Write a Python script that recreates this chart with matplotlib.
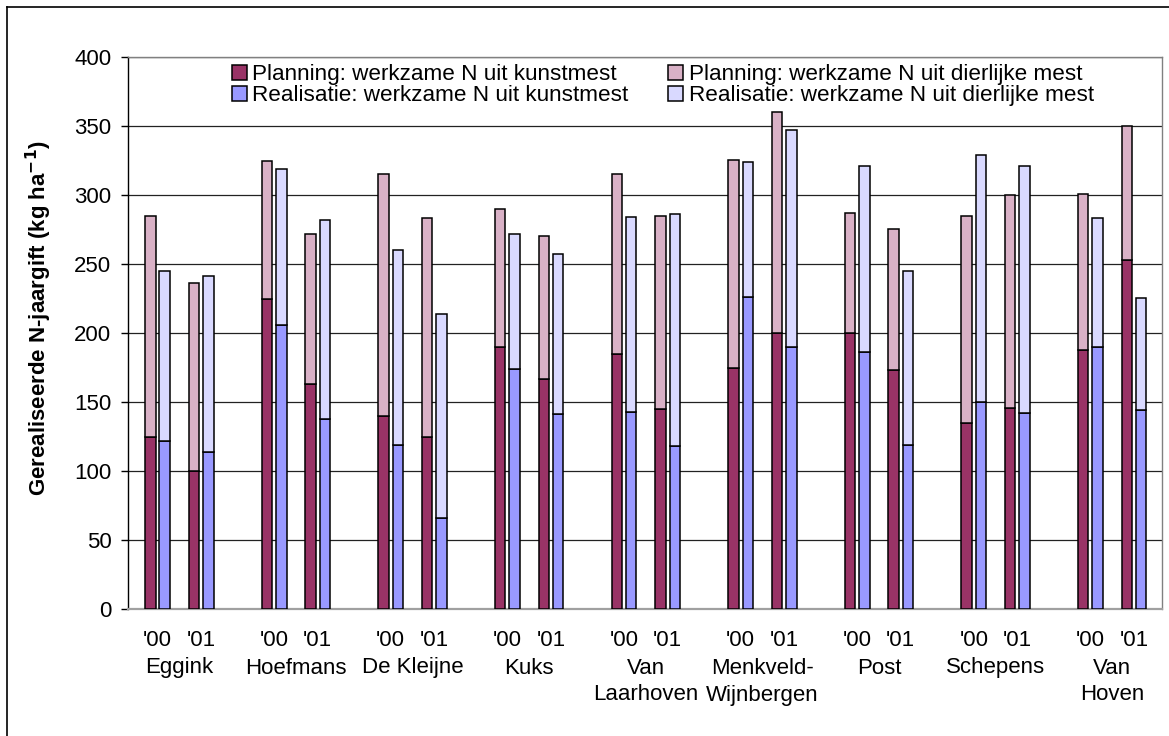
import matplotlib
matplotlib.use("Agg")
import matplotlib.pyplot as plt
from matplotlib.lines import Line2D
from matplotlib.patches import Patch
import numpy as np

plt.rcParams['font.family'] = ['Liberation Sans', 'DejaVu Sans']

farms = ["Eggink", "Hoefmans", "De Kleijne", "Kuks", "Van\nLaarhoven",
         "Menkveld-\nWijnbergen", "Post", "Schepens", "Van\nHoven"]
years = ["'00", "'01"]

# per farm: ['00, '01]
plan_kunst = [[125, 100], [225, 163], [140, 125], [190, 167], [185, 145],
              [175, 200], [200, 173], [135, 146], [188, 253]]
plan_total = [[285, 236], [325, 272], [315, 283], [290, 270], [315, 285],
              [325, 360], [287, 275], [285, 300], [301, 350]]
real_kunst = [[122, 114], [206, 138], [119, 66], [174, 141], [143, 118],
              [226, 190], [186, 119], [150, 142], [190, 144]]
real_total = [[245, 241], [319, 282], [260, 214], [272, 257], [284, 286],
              [324, 347], [321, 245], [329, 321], [283, 225]]

legend_labels = ["Planning: werkzame N uit kunstmest",
                 "Realisatie: werkzame N uit kunstmest",
                 "Planning: werkzame N uit dierlijke mest",
                 "Realisatie: werkzame N uit dierlijke mest"]

c_plan_k = "#993366"
c_plan_d = "#D9B1C6"
c_real_k = "#9999FF"
c_real_d = "#D9D9FF"

W, H = 1169, 736
fig = plt.figure(figsize=(W / 100, H / 100), dpi=100)
ax = fig.add_axes([128 / W, (H - 609) / H, (1162 - 128) / W, (609 - 57) / H])

FS = 16

year_off = 0.374
bw = 0.09
pair = 0.0617

pk = np.array(plan_kunst, float).ravel()
pt = np.array(plan_total, float).ravel()
rk = np.array(real_kunst, float).ravel()
rt = np.array(real_total, float).ravel()
xc = np.array([i + j * year_off for i in range(len(farms)) for j in range(2)])

ekw = dict(edgecolor="black", linewidth=1.1, zorder=3)
ax.bar(xc - pair, pk, bw, color=c_plan_k, **ekw)
ax.bar(xc - pair, pt - pk, bw, bottom=pk, color=c_plan_d, **ekw)
ax.bar(xc + pair, rk, bw, color=c_real_k, **ekw)
ax.bar(xc + pair, rt - rk, bw, bottom=rk, color=c_real_d, **ekw)

ax.set_xlim(-0.253, 8 + year_off + 0.24)
ax.set_ylim(0, 400)
ax.set_yticks(np.arange(0, 401, 50))
ax.yaxis.grid(True, color="#222222", linewidth=0.9, zorder=0)
ax.set_axisbelow(True)
ax.tick_params(axis="y", direction="out", length=5, width=1, labelsize=FS,
               pad=7, colors="black")
ax.set_xticks([])

for side in ["top", "right"]:
    ax.spines[side].set_color("#808080")
    ax.spines[side].set_linewidth(1.0)
ax.spines["bottom"].set_color("#A0A0A0")
ax.spines["bottom"].set_linewidth(1.6)
ax.spines["left"].set_color("black")
ax.spines["left"].set_linewidth(1.0)

# year labels and farm names below the axis
xt = ax.get_xaxis_transform()
for k, x in enumerate(xc):
    ax.text(x, -(640 - 609) / 552, years[k % 2], transform=xt,
            ha="center", va="center", fontsize=FS)
for i, name in enumerate(farms):
    for k, ln in enumerate(name.split("\n")):
        ypx = 668 + 27 * k
        ax.text(i + year_off / 2, -(ypx - 609) / 552, ln, transform=xt,
                ha="center", va="center", fontsize=FS)

fig.text(39 / W, 1 - 318 / H, "Gerealiseerde N-jaargift (kg ha$^{\\mathbf{-1}}$)",
         rotation=90, ha="center", va="center", fontsize=16, fontweight="bold")

handles = [Patch(facecolor=c_plan_k, edgecolor="black", linewidth=1.1),
           Patch(facecolor=c_real_k, edgecolor="black", linewidth=1.1),
           Patch(facecolor=c_plan_d, edgecolor="black", linewidth=1.1),
           Patch(facecolor=c_real_d, edgecolor="black", linewidth=1.1)]
ax.legend(handles, legend_labels, ncol=2, loc="upper left",
          bbox_to_anchor=(232 / W, 1 - 64 / H), bbox_transform=fig.transFigure,
          frameon=False, fontsize=16.2, handlelength=0.65, handleheight=0.65,
          handletextpad=0.26, columnspacing=1.75, labelspacing=0.02,
          borderaxespad=0, borderpad=0)

# chart frame
fig.add_artist(Line2D([7 / W, 7 / W], [0, 1 - 7 / H], color="black",
                      linewidth=1.2, transform=fig.transFigure))
fig.add_artist(Line2D([7 / W, 1], [1 - 7 / H, 1 - 7 / H], color="black",
                      linewidth=1.2, transform=fig.transFigure))

fig.savefig("out.png", dpi=100)
